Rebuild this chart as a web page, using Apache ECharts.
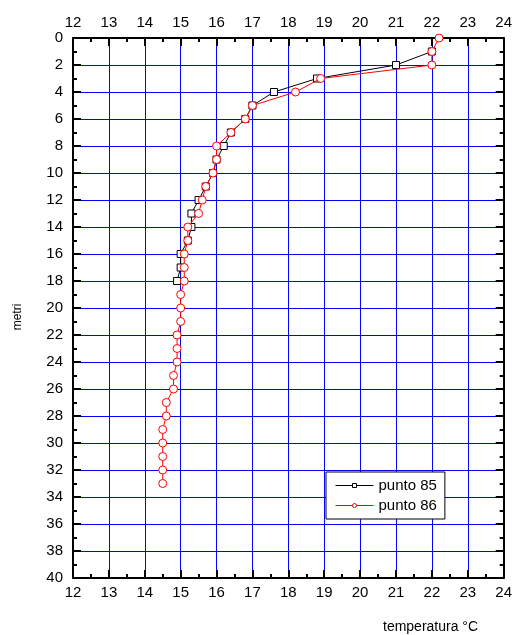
<!DOCTYPE html>
<html>
<head>
<meta charset="utf-8">
<script src="https://cdn.jsdelivr.net/npm/echarts@6/dist/echarts.min.js"></script>
<style>
html, body { margin: 0; padding: 0; background: #fff; }
#chart { width: 515px; height: 635px; }
</style>
</head>
<body>
<div id="chart"></div>
<script>
// profondità (metri) e temperature (°C)
var depth85 = [1, 2, 3, 4, 5, 6, 7, 8, 9, 10, 11, 12, 13, 14, 15, 16, 17, 18];
var temp85 = [22.0, 21.0, 18.8, 17.6, 17.0, 16.8, 16.4, 16.2, 16.0, 15.9, 15.7, 15.5, 15.3, 15.3, 15.2, 15.0, 15.0, 14.9];

var depth86 = [0, 1, 2, 3, 4, 5, 6, 7, 8, 9, 10, 11, 12, 13, 14, 15, 16, 17, 18, 19, 20, 21, 22, 23, 24, 25, 26, 27, 28, 29, 30, 31, 32, 33];
var temp86 = [22.2, 22.0, 22.0, 18.9, 18.2, 17.0, 16.8, 16.4, 16.0, 16.0, 15.9, 15.7, 15.6, 15.5, 15.2, 15.2, 15.1, 15.1, 15.1, 15.0, 15.0, 15.0, 14.9, 14.9, 14.9, 14.8, 14.8, 14.6, 14.6, 14.5, 14.5, 14.5, 14.5, 14.5];

var seriesNames = ['punto 85', 'punto 86'];

function coppie(t, d) {
	var out = [];
	for (var i = 0; i < t.length; i++) {
		out.push([t[i], d[i]]);
	}
	return out;
}

var font = 'Liberation Sans';

function asseX(pos, grid) {
	return {
		type: 'value',
		position: pos,
		min: 12, max: 24, interval: 1,
		axisLine: { show: true, onZero: false, lineStyle: { color: '#000', width: 2 } },
		axisTick: { show: true, inside: true, length: 8, lineStyle: { color: '#000', width: 2 } },
		minorTick: { show: true, splitNumber: 2, length: 4, lineStyle: { color: '#000', width: 2 } },
		axisLabel: { show: true, color: '#000', fontSize: 15, fontFamily: font, margin: pos == 'top' ? 8 : 7 },
		splitLine: { show: grid, lineStyle: { color: '#0000ff', width: 1 } },
		minorSplitLine: { show: false }
	};
}

function asseY(pos, grid) {
	return {
		type: 'value',
		position: pos,
		inverse: true,
		min: 0, max: 40, interval: 2,
		axisLine: { show: true, onZero: false, lineStyle: { color: '#000', width: 2 } },
		axisTick: { show: true, inside: true, length: 8, lineStyle: { color: '#000', width: 2 } },
		minorTick: { show: true, splitNumber: 2, length: 4, lineStyle: { color: '#000', width: 2 } },
		axisLabel: { show: pos == 'left', color: '#000', fontSize: 15, fontFamily: font, margin: 10 },
		splitLine: { show: grid, lineStyle: { color: '#0000ff', width: 1 } }
	};
}

var chart = echarts.init(document.getElementById('chart'));
var option = {
	animation: false,
	backgroundColor: '#fff',
	grid: { left: 73, right: 10, top: 38, bottom: 57 },
	xAxis: [asseX('bottom', true), asseX('top', false)],
	yAxis: [asseY('left', true), asseY('right', false)],
	legend: {
		left: 326, top: 472,
		orient: 'vertical',
		data: seriesNames,
		backgroundColor: '#fff',
		borderColor: '#000',
		borderWidth: 1,
		borderRadius: 0,
		padding: [6, 8, 6, 9],
		itemWidth: 38,
		itemHeight: 5,
		itemGap: 5,
		lineStyle: { width: 1 },
		itemStyle: { borderWidth: 1 },
		textStyle: { color: '#000', fontSize: 15, fontFamily: font }
	},
	graphic: [
		{
			type: 'text', left: 383, top: 620,
			style: { text: 'temperatura °C', fill: '#000', font: '14px ' + font }
		},
		{
			type: 'text', x: 18, y: 317, rotation: Math.PI / 2,
			style: { text: 'metri', fill: '#000', font: '12px ' + font, align: 'center', verticalAlign: 'middle' }
		}
	],
	series: [
		{
			name: seriesNames[0],
			type: 'line',
			data: coppie(temp85, depth85),
			symbol: 'rect',
			symbolSize: 7,
			lineStyle: { color: '#000', width: 1 },
			itemStyle: { color: '#fff', borderColor: '#000', borderWidth: 1 },
			z: 3
		},
		{
			name: seriesNames[1],
			type: 'line',
			data: coppie(temp86, depth86),
			symbol: 'circle',
			symbolSize: 8,
			lineStyle: { color: '#ff0000', width: 1 },
			itemStyle: { color: '#fff', borderColor: '#ff0000', borderWidth: 1 },
			z: 4
		}
	]
};
chart.setOption(option);
</script>
</body>
</html>
